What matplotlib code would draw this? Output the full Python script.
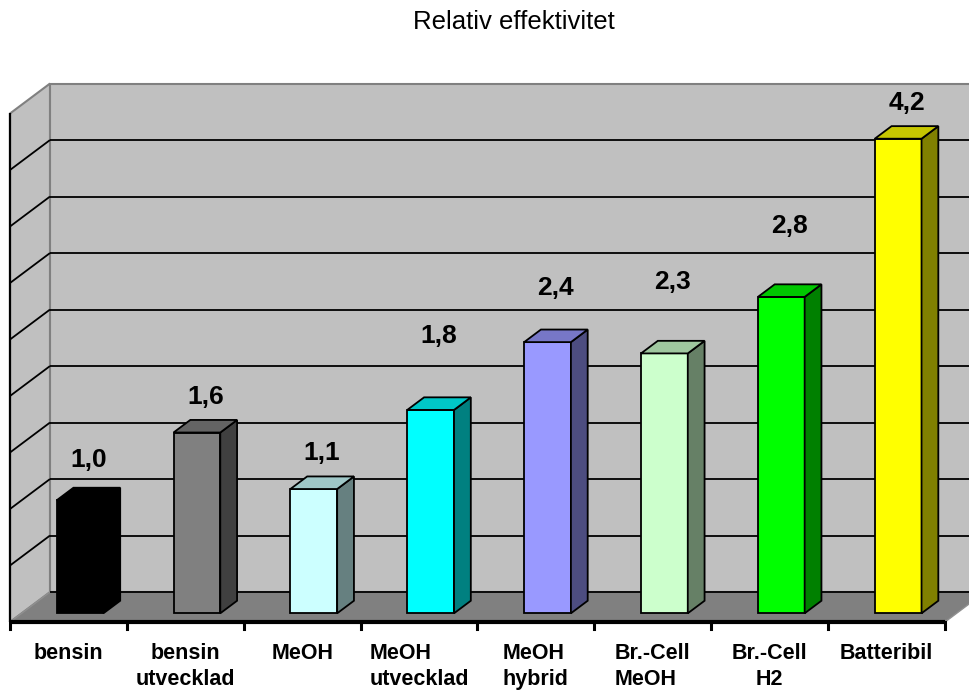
import matplotlib.pyplot as plt
from matplotlib.patches import Polygon
from matplotlib.colors import to_rgb

categories = ['bensin', 'bensin\nutvecklad', 'MeOH', 'MeOH\nutvecklad',
              'MeOH\nhybrid', 'Br.-Cell\nMeOH', 'Br.-Cell\nH2', 'Batteribil']
values = [1.0, 1.6, 1.1, 1.8, 2.4, 2.3, 2.8, 4.2]
value_labels = ['1,0', '1,6', '1,1', '1,8', '2,4', '2,3', '2,8', '4,2']
front_colors = ['#000000', '#808080', '#CCFFFF', '#00FFFF',
                '#9999FF', '#CCFFCC', '#00FF00', '#FFFF00']

# how far above each bar its number sits, and line alignment of the tick labels
label_lift = [0.30, 0.26, 0.26, 0.60, 0.42, 0.58, 0.57, 0.26]
label_align = ['center', 'center', 'left', 'left', 'left', 'left', 'center', 'center']

y_max = 4.5
grid_step = 0.5
n = len(values)

# oblique offset for full depth of the box, in data units
DX, DY = 0.342, 0.265


def proj(x, v, d):
    return (x + d * DX, v + d * DY)


def shade(c, f):
    r, g, b = to_rgb(c)
    return (r * f, g * f, b * f)


def face(ax, pts, fc, ec='black', lw=1.3, z=1):
    ax.add_patch(Polygon([proj(*p) for p in pts], closed=True, facecolor=fc,
                         edgecolor=ec, linewidth=lw, zorder=z))


def line(ax, p0, p1, **kw):
    a, b = proj(*p0), proj(*p1)
    ax.plot([a[0], b[0]], [a[1], b[1]], solid_capstyle='butt', **kw)


fig = plt.figure(figsize=(9.7, 6.92), dpi=100)
ax = fig.add_axes([0, 0, 1, 1])
ax.set_xlim(-10 / 116.875, 960 / 116.875)
ax.set_ylim(-70 / 113, 622 / 113)
ax.axis('off')

# walls and floor
face(ax, [(0, 0, 1), (n, 0, 1), (n, y_max, 1), (0, y_max, 1)], '#C0C0C0', ec='#808080', lw=1.5, z=0)
face(ax, [(0, 0, 0), (0, 0, 1), (0, y_max, 1), (0, y_max, 0)], '#C0C0C0', ec='#808080', lw=1.5, z=0)
face(ax, [(0, 0, 0), (n, 0, 0), (n, 0, 1), (0, 0, 1)], '#808080', ec='#909090', lw=1.0, z=0)

# gridlines on back and side walls
v = 0.0
while v < y_max - 1e-9:
    line(ax, (0, v, 1), (n, v, 1), color='black', lw=1.3, zorder=0.5)
    if v > 0:
        line(ax, (0, v, 0), (0, v, 1), color='black', lw=1.3, zorder=0.5)
    v += grid_step

# axes lines and ticks
line(ax, (0, 0, 0), (0, y_max, 0), color='black', lw=1.6, zorder=0.6)
line(ax, (0, 0, 0), (n, 0, 0), color='black', lw=3.0, zorder=0.6)
for i in range(n + 1):
    x, y = proj(i, 0, 0)
    ax.plot([x, x], [y, y - 0.06], color='black', lw=2.2, zorder=0.6)

# bars
w, d0, d1 = 0.4, 0.29, 0.71
for i, (val, c) in enumerate(zip(values, front_colors)):
    x0, x1 = i + 0.5 - w / 2, i + 0.5 + w / 2
    face(ax, [(x0, 0, d0), (x1, 0, d0), (x1, val, d0), (x0, val, d0)], c, z=2)
    face(ax, [(x1, 0, d0), (x1, 0, d1), (x1, val, d1), (x1, val, d0)], shade(c, 0.5), z=2)
    face(ax, [(x0, val, d0), (x1, val, d0), (x1, val, d1), (x0, val, d1)], shade(c, 0.78), z=2)

# value labels
for i, (val, txt) in enumerate(zip(values, value_labels)):
    x, y = proj(i + 0.5, val + label_lift[i], 0.5)
    ax.text(x, y, txt, ha='center', va='center', fontsize=19, fontweight='bold',
            family='Liberation Sans', zorder=3)

# category labels
for i, cat in enumerate(categories):
    ax.text(i + 0.5, -21 / 113, cat, ha='center', va='top', multialignment=label_align[i],
            fontsize=15.5, fontweight='bold', family='Liberation Sans', linespacing=1.3)

fig.text(514 / 970, 1 - 22 / 692, 'Relativ effektivitet', ha='center', va='center',
         fontsize=18.5, family='Liberation Sans')

fig.savefig('out.png', dpi=100)
